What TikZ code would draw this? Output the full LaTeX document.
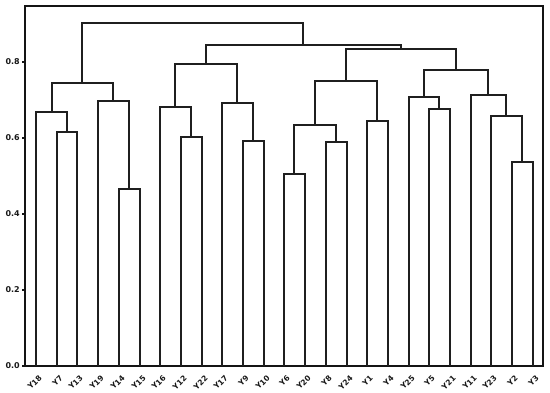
\documentclass[tikz,border=0pt]{standalone}
\usepackage{fontspec}
\newfontfamily\lblfont{DejaVu Sans}
\begin{document}
\begin{tikzpicture}[x=1pt,y=-1pt,
  tree/.style={draw=black!88,line width=1.8pt},
  frame/.style={draw=black!92,line width=1.9pt},
  ticklbl/.style={font=\lblfont\bfseries\fontsize{8}{9}\selectfont,anchor=east,inner sep=0pt,text=black!90},
  leaflbl/.style={font=\lblfont\bfseries\fontsize{7.6}{8}\selectfont,anchor=east,rotate=45,inner sep=0pt,text=black!90}]
\useasboundingbox (0,0) rectangle (550,393);
\fill[white] (0,0) rectangle (550,393);
% frame
\draw[frame] (25,6) rectangle (543,366);
% ticks and labels
\foreach \v/\yy [count=\k] in {0.0/366,0.2/290,0.4/214,0.6/138,0.8/62}{
  \coordinate (t\k) at (25,\yy);
  \coordinate (te\k) at (22,\yy);
  \draw[frame,line width=1.2pt] (t\k) -- (te\k);
  \node[ticklbl] (tl\k) at (20,\yy) {\v};
}
% leaves
\foreach \name/\xx in {Y18/36,Y7/57,Y13/77,Y19/98,Y14/119,Y15/140,Y16/160,Y12/181,Y22/202,Y17/222,Y9/243,Y10/264,Y6/284,Y20/305,Y8/326,Y24/347,Y1/367,Y4/388,Y25/409,Y5/429,Y21/450,Y11/471,Y23/491,Y2/512,Y3/533}{
  \coordinate (\name) at (\xx,366);
  \node[leaflbl] (l\name) at (\xx+4.5,376.5) {\name};
}
% internal nodes
\coordinate (n713) at (67,132);
\coordinate (nA) at (52,112);
\coordinate (n1415) at (129,189);
\coordinate (nB) at (113,101);
\coordinate (nAB) at (82,83);
\coordinate (n1222) at (191,137);
\coordinate (nC) at (175,107);
\coordinate (n910) at (253,141);
\coordinate (nD) at (237,103);
\coordinate (nCD) at (206,64);
\coordinate (n620) at (294,174);
\coordinate (n824) at (336,142);
\coordinate (nE) at (315,125);
\coordinate (n14) at (377,121);
\coordinate (nEF) at (346,81);
\coordinate (n521) at (439,109);
\coordinate (nG) at (424,97);
\coordinate (n23) at (522,162);
\coordinate (nH1) at (506,116);
\coordinate (nH) at (488,95);
\coordinate (nGH) at (456,70);
\coordinate (nEFGH) at (401,49);
\coordinate (nR) at (303,45);
\coordinate (root) at (192,23);
% brackets
\foreach \l/\p/\r in {Y7/n713/Y13, Y18/nA/n713, Y14/n1415/Y15, Y19/nB/n1415, nA/nAB/nB,
  Y12/n1222/Y22, Y16/nC/n1222, Y9/n910/Y10, Y17/nD/n910, nC/nCD/nD,
  Y6/n620/Y20, Y8/n824/Y24, n620/nE/n824, Y1/n14/Y4, nE/nEF/n14,
  Y5/n521/Y21, Y25/nG/n521, Y2/n23/Y3, Y23/nH1/n23, Y11/nH/nH1, nG/nGH/nH,
  nEF/nEFGH/nGH, nCD/nR/nEFGH, nAB/root/nR}{
  \draw[tree] (\l) |- (\p) -| (\r);
}
\end{tikzpicture}
\end{document}
